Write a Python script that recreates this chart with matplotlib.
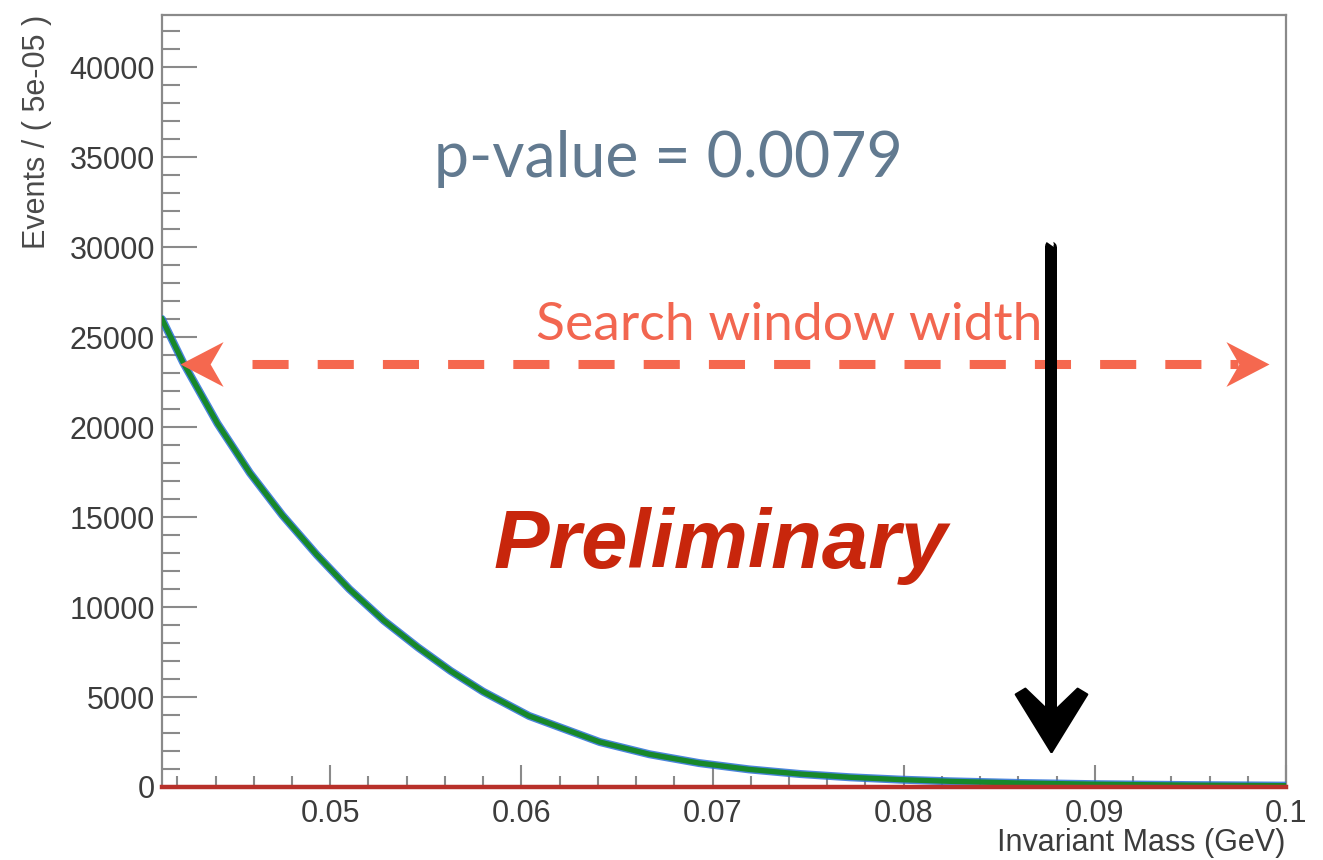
import numpy as np
import matplotlib
matplotlib.use('Agg')
import matplotlib.pyplot as plt
from matplotlib.ticker import MultipleLocator

# invariant mass spectrum and background fit
mass = [0.0412, 0.0423, 0.0441, 0.0458, 0.0475, 0.0493, 0.0510, 0.0528,
        0.0546, 0.0563, 0.0580, 0.0604, 0.0641, 0.0667, 0.0693, 0.0719,
        0.0746, 0.0772, 0.0798, 0.0824, 0.0860, 0.0900, 0.0950, 0.1000]
events = [26000, 23600, 20200, 17450, 15100, 12900, 11000, 9250,
          7750, 6450, 5300, 3950, 2500, 1820, 1330, 980,
          720, 540, 410, 316, 224, 156, 105, 74]
# signal component of the fit
signal_mass = [0.0412, 0.1000]
signal = [0, 0]

pvalue = 0.0079

fig = plt.figure(figsize=(13.23, 8.6), dpi=100)
ax = fig.add_axes([162/1323, 1 - 787/860, 1124/1323, 772/860])

ax.plot(mass, events, color='#2b6fd6', lw=5.8, alpha=0.85,
        solid_joinstyle='round', solid_capstyle='round', zorder=3)
ax.plot(mass, events, color='#17882a', lw=3.8, solid_joinstyle='round',
        zorder=4)
ax.plot(signal_mass, signal, color='#b8302a', lw=3.2, zorder=5, clip_on=False)

ax.set_xlim(0.0412, 0.1)
ax.set_ylim(0, 42900)

# ROOT style axes
for s in ax.spines.values():
    s.set_color('#8a8a8a')
    s.set_linewidth(1.6)
ax.xaxis.set_major_locator(MultipleLocator(0.01))
ax.xaxis.set_minor_locator(MultipleLocator(0.002))
ax.yaxis.set_major_locator(MultipleLocator(5000))
ax.yaxis.set_minor_locator(MultipleLocator(1000))
ax.tick_params(axis='both', which='both', direction='in', color='#8a8a8a',
               width=1.5, labelcolor='#3c3c3c', labelsize=22)
ax.tick_params(axis='y', which='major', length=25, pad=5)
ax.tick_params(axis='y', which='minor', length=13)
ax.tick_params(axis='x', which='major', length=16, pad=9)
ax.tick_params(axis='x', which='minor', length=8)
ax.xaxis.set_major_formatter(plt.FuncFormatter(lambda v, p: f'{v:g}'))
for lab in ax.get_xticklabels() + ax.get_yticklabels():
    lab.set_family('Liberation Sans')

fig.text(37/1323, 1 - 15/860, 'Events / ( 5e-05 )', rotation=90, ha='center',
         va='top', fontsize=22, color='#4a4a4a', family='Liberation Sans')
fig.text(1285/1323, 1 - 843/860, 'Invariant Mass (GeV)', ha='right',
         va='center', fontsize=22, color='#3c3c3c', family='Liberation Sans')

# annotations
ax.text(0.0677, 34900, f'p-value = {pvalue}', ha='center', va='center',
        fontsize=45, color='#627a90', family='Lato')
ax.text(0.0740, 25650, 'Search window width', ha='center', va='center',
        fontsize=38.5, color='#f26650', family='Lato')
ax.text(0.0704, 13400, 'Preliminary', ha='center', va='center',
        fontsize=60, color='#c8260c', family='Liberation Sans',
        weight='bold', style='italic')

# dashed double arrow for the search window
salmon = '#f5684f'
y_win = 23500
ax.plot([0.0459, 0.0975], [y_win, y_win], color=salmon, lw=6.5,
        dashes=(36/9, 29/9), solid_capstyle='butt', zorder=6)
head_r = [(0, 0), (-1, 0.52), (-0.7, 0), (-1, -0.52), (0, 0)]
head_l = [(-x, y) for x, y in head_r]
ax.plot([0.0991], [y_win], marker=head_r, markersize=62, color=salmon,
        markeredgewidth=0, zorder=6)
ax.plot([0.04216], [y_win], marker=head_l, markersize=62, color=salmon,
        markeredgewidth=0, zorder=6)

# hand drawn arrow pointing at the excess
x_arr = 0.0877
shaft, = ax.plot([x_arr, x_arr], [30100, 3800], color='black', lw=7.5,
                 solid_capstyle='butt', zorder=7)
shaft.set_sketch_params(0.8, 3, 1)
head_v = [(0, 0), (-37, 60), (-27, 66), (0, 40), (27, 66), (37, 60), (0, 0)]
head, = ax.plot([x_arr], [1950], marker=head_v, markersize=92, color='black',
                markeredgewidth=1.5, zorder=7)
head.set_sketch_params(0.8, 3, 1)

fig.savefig('out.png', dpi=100)
